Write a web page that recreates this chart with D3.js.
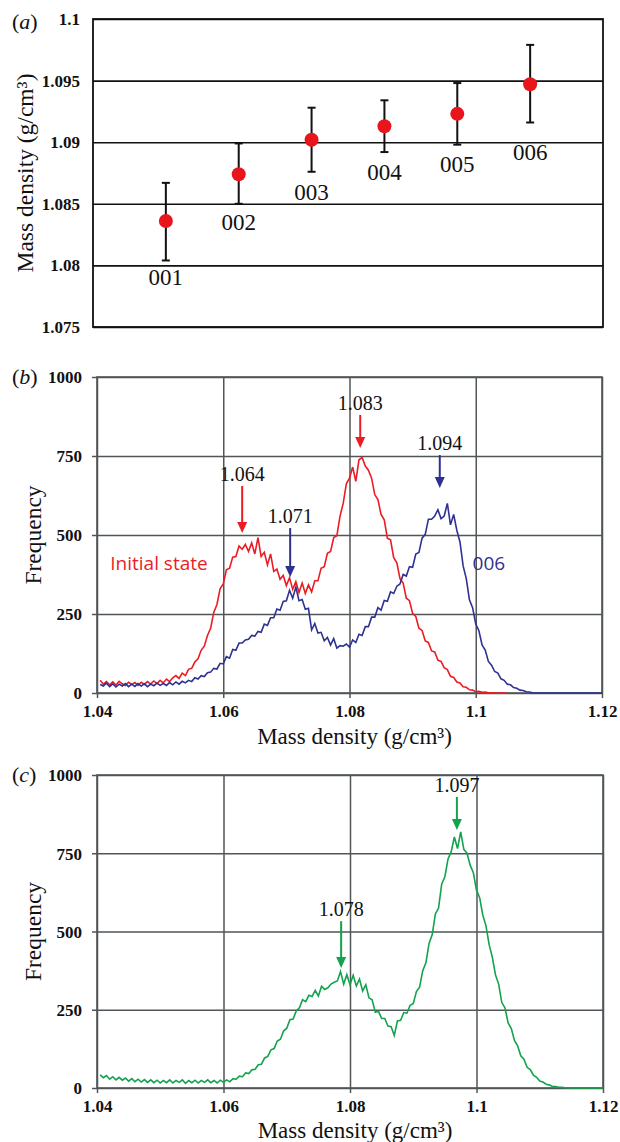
<!DOCTYPE html>
<html><head><meta charset="utf-8">
<script src="https://cdn.jsdelivr.net/npm/d3@7"></script>
<style>body{margin:0;background:#fff} svg{display:block}</style>
</head><body><svg id="chart" width="620" height="1142"></svg>
<script>
// ---------- Panel (a) data ----------
const samples = ["001","002","003","004","005","006"];
const meanDensity  = [1.0836,1.0874,1.0902,1.0913,1.0923,1.0947];
const upperDensity = [1.0867,1.0899,1.0928,1.0934,1.0948,1.0979];
const lowerDensity = [1.0804,1.0850,1.0876,1.0892,1.0898,1.0916];
const labelDensity = [1.0791,1.0835,1.0860,1.0876,1.0882,1.0892];
const densityTicksA = [1.075,1.08,1.085,1.09,1.095,1.1];
const densityTickTextA = ["1.075","1.08","1.085","1.09","1.095","1.1"];

// ---------- Panels (b),(c) data ----------
const densityTicksX = [1.04,1.06,1.08,1.1,1.12];
const densityTickTextX = ["1.04","1.06","1.08","1.1","1.12"];
const freqTicks = [0,250,500,750,1000];
const binStart = 1.0405, binWidth = 0.0005;

const initialState = [
 40,28,36,26,35,25,37,29,24,34,
 27,33,24,34,27,36,28,38,30,40,
 32,44,36,48,55,46,63,55,75,78,
 98,108,135,148,182,205,255,280,330,345,
 390,395,430,432,465,455,470,448,475,440,
 492,432,445,405,440,385,392,360,372,340,
 365,328,352,318,348,315,342,320,355,355,
 395,400,442,448,492,498,560,600,662,680,
 715,670,738,745,718,705,680,628,612,565,
 548,490,485,428,412,362,348,300,292,252,
 242,205,198,165,160,133,130,104,100,80,
 74,53,49,35,32,20,18,10,9,4,
 5,2,3,1,1,0,0,0,0,0
];
const sample006 = [
 27,22,31,20,29,19,28,22,30,20,
 28,21,30,22,29,20,28,23,31,24,
 30,24,33,26,35,28,37,32,40,36,
 48,44,55,52,64,66,78,76,94,92,
 115,110,138,135,158,158,168,170,182,180,
 195,192,218,214,238,238,266,262,290,292,
 325,300,335,292,296,265,268,200,220,190,
 192,165,176,152,172,142,150,148,155,145,
 168,160,186,182,210,210,240,240,270,262,
 293,290,320,315,338,345,375,370,400,398,
 440,445,490,502,550,550,560,580,552,560,
 600,532,565,515,478,402,362,295,270,218,
 197,152,136,100,88,68,63,45,40,28,
 26,17,15,9,8,4,3,1,0,0,
 0,0,0,0,0,0,0,0,0,0,
 0,0,0,0,0,0,0,0,0,0
];
const sampleC = [
 42,33,40,28,36,26,34,25,32,22,
 30,20,28,19,27,18,26,17,25,16,
 24,17,26,16,24,18,26,15,24,17,
 25,16,24,18,26,17,24,16,25,18,
 26,20,30,28,38,36,48,46,58,60,
 74,76,96,101,122,126,150,156,182,191,
 218,220,246,256,282,276,296,292,312,294,
 325,315,320,332,338,342,372,332,362,330,
 360,326,348,310,330,288,282,242,245,222,
 222,198,196,168,214,216,241,239,264,269,
 308,322,375,400,462,490,556,575,652,675,
 732,755,802,765,818,762,750,712,688,632,
 608,552,518,458,418,362,332,273,256,208,
 190,152,135,103,92,66,59,41,34,22,
 19,12,10,5,5,2,2,1,1,0,
 0,0,0,0,0,0,0,0,0,0
];

// peak annotations: label, density at arrow, arrow top / tip (frequency units)
const peakLabelsB  = ["1.064","1.071","1.083","1.094"];
const peakDensityB = [1.0630,1.0706,1.0817,1.0943];
const peakTopB     = [655,522,880,753];
const peakTipB     = [506,367,775,649];
const peakSeriesB  = ["red","blue","red","blue"];
const peakLabelsC  = ["1.078","1.097"];
const peakDensityC = [1.0786,1.0969];
const peakTopC     = [533,930];
const peakTipC     = [383,824];

const RED = "#ec1c24", BLUE = "#2e3192", GREEN = "#13a24d";
const GRID = "#505558";
const SERIF = "Liberation Serif, Times New Roman, serif";
const SANS = "Open Sans, Liberation Sans, sans-serif";

const svg = d3.select("#chart");

// ================= Panel (a) =================
(function(){
  const L=93, R=603, T=19, B=327;
  const x = d3.scaleLinear().domain([0,7]).range([L,R]);
  const y = d3.scaleLinear().domain([1.075,1.1]).range([B,T]);
  const g = svg.append("g");
  g.append("g").attr("transform",`translate(${L},0)`)
    .call(d3.axisLeft(y).tickValues(densityTicksA).tickSize(-(R-L)).tickFormat(""))
    .call(a=>a.select(".domain").remove())
    .call(a=>a.selectAll("line").attr("stroke","#111").attr("stroke-width",1.6));
  g.append("rect").attr("x",L).attr("y",T).attr("width",R-L).attr("height",B-T)
    .attr("fill","none").attr("stroke","#111").attr("stroke-width",1.8);
  g.selectAll("text.yt").data(densityTicksA).join("text")
    .attr("x",80).attr("y",d=>y(d)).attr("dy","0.35em")
    .attr("text-anchor","end").attr("font-family",SERIF).attr("font-weight","bold")
    .attr("font-size",17).attr("fill","#111")
    .text((d,i)=>densityTickTextA[i]);
  const idx = d3.range(samples.length);
  const eb = g.selectAll("g.eb").data(idx).join("g");
  eb.append("line").attr("x1",i=>x(i+1)).attr("x2",i=>x(i+1))
    .attr("y1",i=>y(upperDensity[i])).attr("y2",i=>y(lowerDensity[i]))
    .attr("stroke","#111").attr("stroke-width",2);
  [upperDensity,lowerDensity].forEach(arr=>{
    eb.append("line").attr("x1",i=>x(i+1)-4).attr("x2",i=>x(i+1)+4)
      .attr("y1",i=>y(arr[i])).attr("y2",i=>y(arr[i]))
      .attr("stroke","#111").attr("stroke-width",2);
  });
  eb.append("circle").attr("cx",i=>x(i+1)).attr("cy",i=>y(meanDensity[i]))
    .attr("r",7).attr("fill","#e8151d");
  eb.append("text").attr("x",i=>x(i+1)).attr("y",i=>y(labelDensity[i])).attr("dy","0.35em")
    .attr("text-anchor","middle").attr("font-family",SERIF).attr("font-size",23)
    .attr("fill","#111").text(i=>samples[i]);
  g.append("text").attr("transform",`translate(33,${(T+B)/2}) rotate(-90)`)
    .attr("text-anchor","middle").attr("font-family",SERIF).attr("font-size",23.5)
    .attr("fill","#111").text("Mass density (g/cm³)");
  const pl = g.append("text").attr("x",12).attr("y",29).attr("font-family",SERIF)
    .attr("font-size",22).attr("fill","#111");
  pl.append("tspan").text("(");
  pl.append("tspan").attr("font-style","italic").text("a");
  pl.append("tspan").text(")");
})();

// ================= Histogram panels =================
function histPanel(cfg){
  const {L,R,T,B,label} = cfg;
  const x = d3.scaleLinear().domain([1.04,1.12]).range([L,R]);
  const y = d3.scaleLinear().domain([0,1000]).range([B,T]);
  const g = svg.append("g");
  g.append("g").attr("transform",`translate(${L},0)`)
    .call(d3.axisLeft(y).tickValues(freqTicks).tickSize(-(R-L)).tickFormat(""))
    .call(a=>a.select(".domain").remove())
    .call(a=>a.selectAll("line").attr("stroke",GRID).attr("stroke-width",1.5));
  g.append("g").attr("transform",`translate(0,${B})`)
    .call(d3.axisBottom(x).tickValues(densityTicksX).tickSize(-(B-T)).tickFormat(""))
    .call(a=>a.select(".domain").remove())
    .call(a=>a.selectAll("line").attr("stroke",GRID).attr("stroke-width",1.5));
  g.append("g").attr("transform",`translate(${L},0)`)
    .call(d3.axisLeft(y).tickValues(freqTicks).tickSize(5).tickPadding(10).tickFormat(d3.format("d")))
    .call(a=>a.select(".domain").remove())
    .call(a=>a.selectAll("line").attr("stroke",GRID).attr("stroke-width",1.5))
    .call(a=>a.selectAll("text").attr("font-family",SERIF).attr("font-weight","bold")
      .attr("font-size",17).attr("fill","#111").attr("dy","0.35em"));
  g.append("g").attr("transform",`translate(0,${B})`)
    .call(d3.axisBottom(x).tickValues(densityTicksX).tickSize(5).tickPadding(7)
      .tickFormat((d,i)=>densityTickTextX[i]))
    .call(a=>a.select(".domain").remove())
    .call(a=>a.selectAll("line").attr("stroke",GRID).attr("stroke-width",1.5))
    .call(a=>a.selectAll("text").attr("font-family",SERIF).attr("font-weight","bold")
      .attr("font-size",17).attr("fill","#111").attr("dy","0.71em"));
  g.append("rect").attr("x",L).attr("y",T).attr("width",R-L).attr("height",B-T)
    .attr("fill","none").attr("stroke",GRID).attr("stroke-width",1.6);
  const line = d3.line().x((d,i)=>x(binStart+i*binWidth)).y(d=>y(d));
  cfg.series.forEach(s=>{
    g.append("path").datum(s.values).attr("d",line).attr("fill","none")
      .attr("stroke",s.color).attr("stroke-width",1.6).attr("stroke-linejoin","miter");
  });
  cfg.peaks.forEach(p=>{
    const px = x(p.d), yt = y(p.top), yp = y(p.tip);
    g.append("line").attr("x1",px).attr("x2",px).attr("y1",yt).attr("y2",yp-9)
      .attr("stroke",p.color).attr("stroke-width",2);
    g.append("path").attr("d",`M${px-5},${yp-11}L${px+5},${yp-11}L${px},${yp}Z`).attr("fill",p.color);
    g.append("text").attr("x",px).attr("y",yt-5).attr("text-anchor","middle")
      .attr("font-family",SERIF).attr("font-size",20).attr("fill","#111").text(p.label);
  });
  (cfg.notes||[]).forEach(n=>{
    g.append("text").attr("x",x(n.d)).attr("y",y(n.f)).attr("font-family",SANS)
      .attr("font-size",19).attr("fill",n.color).text(n.text);
  });
  g.append("text").attr("x",(L+R)/2+5).attr("y",cfg.xTitleY).attr("text-anchor","middle")
    .attr("font-family",SERIF).attr("font-size",23).attr("fill","#111").text("Mass density (g/cm³)");
  g.append("text").attr("transform",`translate(41,${(T+B)/2}) rotate(-90)`)
    .attr("text-anchor","middle").attr("font-family",SERIF).attr("font-size",23.5)
    .attr("fill","#111").text("Frequency");
  const pl = g.append("text").attr("x",12).attr("y",T+7).attr("font-family",SERIF)
    .attr("font-size",22).attr("fill","#111");
  pl.append("tspan").text("(");
  pl.append("tspan").attr("font-style","italic").text(label);
  pl.append("tspan").text(")");
}

const colorOf = {red:RED, blue:BLUE};
histPanel({L:97,R:602,T:377,B:693,label:"b",xTitleY:744,
  series:[{values:initialState,color:RED},{values:sample006,color:BLUE}],
  peaks:peakLabelsB.map((l,i)=>({label:l,d:peakDensityB[i],top:peakTopB[i],tip:peakTipB[i],color:colorOf[peakSeriesB[i]]})),
  notes:[{text:"Initial state",d:1.0421,f:389,color:RED},{text:"006",d:1.0995,f:389,color:BLUE}]
});
histPanel({L:97,R:603,T:775,B:1088,label:"c",xTitleY:1138,
  series:[{values:sampleC,color:GREEN}],
  peaks:peakLabelsC.map((l,i)=>({label:l,d:peakDensityC[i],top:peakTopC[i],tip:peakTipC[i],color:GREEN}))
});
</script></body></html>
